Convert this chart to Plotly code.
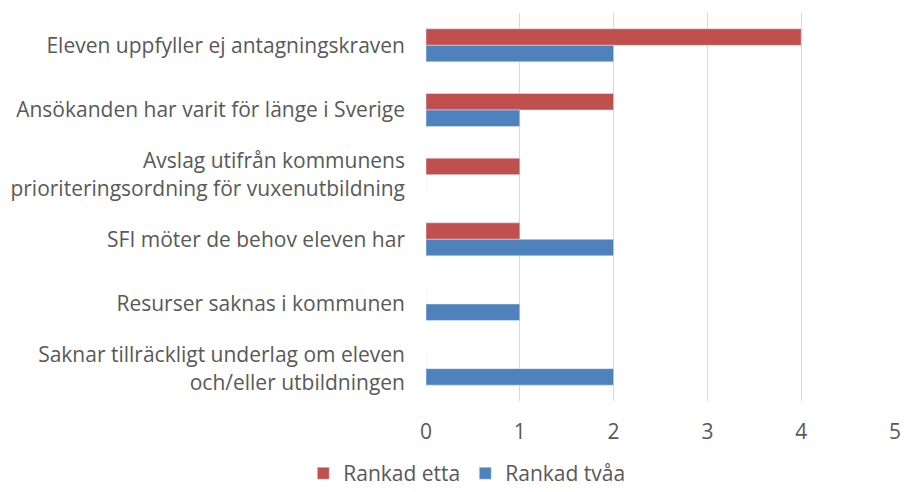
import plotly.graph_objects as go

categories = [
    "Eleven uppfyller ej antagningskraven",
    "Ansökanden har varit för länge i Sverige",
    "Avslag utifrån kommunens<br>prioriteringsordning för vuxenutbildning",
    "SFI möter de behov eleven har",
    "Resurser saknas i kommunen",
    "Saknar tillräckligt underlag om eleven<br>och/eller utbildningen",
]
rankad_etta = [4, 2, 1, 1, 0, 0]
rankad_tvaa = [2, 1, 0, 2, 1, 2]
x_ticks = [0, 1, 2, 3, 4, 5]

fig = go.Figure()
fig.add_trace(go.Bar(y=categories, x=rankad_etta, orientation="h", name="Rankad etta",
                     marker=dict(color="#C0504D")))
fig.add_trace(go.Bar(y=categories, x=rankad_tvaa, orientation="h", name="Rankad tvåa",
                     marker=dict(color="#4F81BD")))

fam = "Open Sans, Liberation Sans, sans-serif"
fig.update_layout(
    width=895, height=476,
    margin=dict(l=418, r=8, t=5, b=83, autoexpand=False),
    barmode="group", bargap=0.49, bargroupgap=0,
    plot_bgcolor="white", paper_bgcolor="white",
    font=dict(family=fam, size=21, color="#595959"),
    showlegend=True,
    legend=dict(orientation="h", x=0.087, xanchor="center", y=-0.187, yanchor="middle",
                font=dict(family=fam, size=21, color="#595959"),
                itemwidth=30, traceorder="normal"),
    xaxis=dict(range=[0, 5], tickvals=x_ticks, showgrid=True, gridcolor="#d9d9d9", gridwidth=1,
               zeroline=False, showline=False, ticks="", ticklabelstandoff=16, automargin=False,
               ticklabeloverflow="allow",
               tickfont=dict(family=fam, size=21, color="#595959")),
    yaxis=dict(autorange="reversed", showgrid=False, zeroline=False, showline=False, ticks="",
               ticklabelstandoff=20, automargin=False,
               tickfont=dict(family=fam, size=21, color="#595959")),
)
fig.write_html("out.html")
